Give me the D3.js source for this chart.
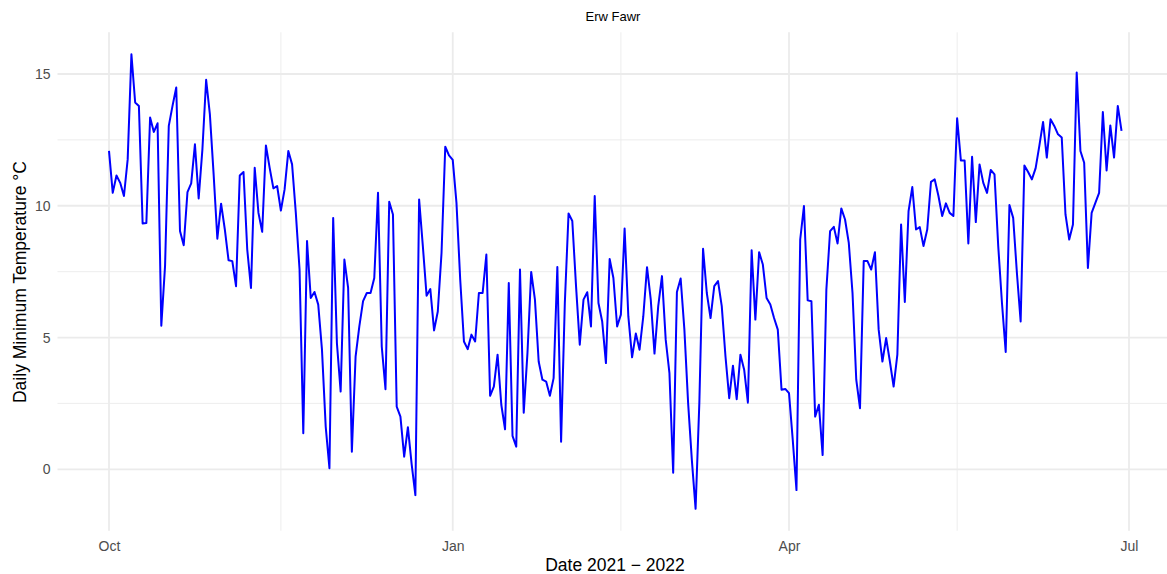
<!DOCTYPE html>
<html>
<head>
<meta charset="utf-8">
<script src="https://cdn.jsdelivr.net/npm/d3@7"></script>
<style>
  html, body { margin: 0; padding: 0; background: #ffffff; }
  svg { display: block; font-family: "Liberation Sans", Arial, Helvetica, sans-serif; }
</style>
</head>
<body>
<svg id="chart" width="1167" height="574"></svg>
<script>
// ---- Data ----
const chartTitle = "Erw Fawr";
const xAxisTitle = "Date 2021 \u2212 2022";
const yAxisTitle = "Daily Minimum Temperature \u00B0C";
const startDate = "2021-10-01"; // one value per day from this date
const minTemps = [
  12.08, 10.49, 11.15, 10.87, 10.37, 11.76, 15.75, 13.92, 13.79, 9.33,
  9.35, 13.35, 12.8, 13.13, 5.45, 7.71, 13.03, 13.79, 14.49, 9.04,
  8.5, 10.52, 10.85, 12.33, 10.28, 12.14, 14.78, 13.47, 11.2, 8.75,
  10.08, 9.1, 7.93, 7.9, 6.95, 11.15, 11.28, 8.34, 6.88, 11.44,
  9.73, 9.01, 12.29, 11.44, 10.66, 10.75, 9.82, 10.62, 12.08, 11.57,
  9.73, 7.58, 1.37, 8.66, 6.5, 6.73, 6.25, 4.54, 1.62, 0.04,
  9.54, 4.79, 2.95, 7.96, 6.88, 0.67, 4.28, 5.42, 6.38, 6.69,
  6.69, 7.26, 10.49, 4.66, 3.04, 10.15, 9.67, 2.38, 2.0, 0.48,
  1.6, 0.2, -0.98, 10.24, 8.47, 6.59, 6.84, 5.27, 5.99, 8.21,
  12.24, 11.91, 11.74, 10.11, 7.2, 4.85, 4.56, 5.11, 4.85, 6.69,
  6.69, 8.15, 2.79, 3.14, 4.35, 2.45, 1.52, 7.07, 1.27, 0.86,
  7.58, 2.15, 4.41, 7.49, 6.44, 4.09, 3.4, 3.33, 2.79, 3.46,
  7.68, 1.05, 6.31, 9.71, 9.42, 6.95, 4.73, 6.44, 6.72, 5.42,
  10.37, 6.31, 5.61, 4.03, 7.98, 7.26, 5.42, 5.87, 9.14, 5.8,
  4.25, 5.15, 4.54, 5.8, 7.67, 6.44, 4.39, 6.19, 7.33, 4.92,
  3.65, -0.13, 6.73, 7.24, 5.3, 2.51, 0.35, -1.5, 2.51, 8.37,
  6.69, 5.74, 6.95, 7.14, 6.19, 4.28, 2.7, 3.93, 2.66, 4.35,
  3.78, 2.53, 8.31, 5.68, 8.24, 7.77, 6.5, 6.25, 5.74, 5.3,
  3.02, 3.05, 2.89, 1.12, -0.79, 8.72, 9.99, 6.41, 6.38, 2.0,
  2.45, 0.54, 6.82, 9.04, 9.2, 8.57, 9.9, 9.48, 8.59, 6.69,
  3.4, 2.32, 7.9, 7.9, 7.58, 8.24, 5.3, 4.09, 4.98, 4.09,
  3.14, 4.35, 9.29, 6.35, 9.8, 10.71, 9.1, 9.19, 8.47, 9.1,
  10.91, 11.0, 10.37, 9.61, 10.09, 9.73, 9.61, 13.32, 11.72, 11.72,
  8.57, 11.86, 9.38, 11.57, 10.87, 10.49, 11.36, 11.19, 8.47, 6.31,
  4.45, 10.03, 9.54, 7.45, 5.61, 11.53, 11.28, 11.0, 11.42, 12.27,
  13.18, 11.83, 13.28, 13.03, 12.71, 12.59, 9.67, 8.72, 9.29, 15.06,
  12.08, 11.63, 7.64, 9.73, 10.11, 10.49, 13.56, 11.34, 13.05, 11.83,
  13.79, 12.84
];
const xTickDates = ["2021-10-01", "2022-01-01", "2022-04-01", "2022-07-01"];
const xTickLabels = ["Oct", "Jan", "Apr", "Jul"];
const xMinorDates = ["2021-11-16", "2022-02-15", "2022-05-16"];
const yTicks = [0, 5, 10, 15];
const yMinorTicks = [2.5, 7.5, 12.5];

// ---- Layout ----
const panel = { left: 57.5, right: 1180, top: 32.3, bottom: 530.7 };
const parse = d3.utcParse("%Y-%m-%d");
const start = parse(startDate);
const data = minTemps.map((v, i) => ({ date: d3.utcDay.offset(start, i), value: v }));

const x = d3.scaleUtc()
  .domain([parse("2021-10-01"), parse("2022-07-01")])
  .range([109, 1129]);
const y = d3.scaleLinear()
  .domain([0, 15])
  .range([469.3, 74]);

const svg = d3.select("#chart");
svg.append("rect").attr("width", 1167).attr("height", 574).attr("fill", "#ffffff");

const grid = svg.append("g");
// minor gridlines
grid.selectAll(".hmin").data(yMinorTicks).join("line")
  .attr("x1", panel.left).attr("x2", panel.right)
  .attr("y1", d => y(d)).attr("y2", d => y(d))
  .attr("stroke", "#ebebeb").attr("stroke-width", 0.9);
grid.selectAll(".vmin").data(xMinorDates.map(parse)).join("line")
  .attr("x1", d => x(d)).attr("x2", d => x(d))
  .attr("y1", panel.top).attr("y2", panel.bottom)
  .attr("stroke", "#ebebeb").attr("stroke-width", 0.9);
// major gridlines
grid.selectAll(".hmaj").data(yTicks).join("line")
  .attr("x1", panel.left).attr("x2", panel.right)
  .attr("y1", d => y(d)).attr("y2", d => y(d))
  .attr("stroke", "#ebebeb").attr("stroke-width", 1.8);
grid.selectAll(".vmaj").data(xTickDates.map(parse)).join("line")
  .attr("x1", d => x(d)).attr("x2", d => x(d))
  .attr("y1", panel.top).attr("y2", panel.bottom)
  .attr("stroke", "#ebebeb").attr("stroke-width", 1.8);

// line
const line = d3.line().x(d => x(d.date)).y(d => y(d.value));
svg.append("path").datum(data)
  .attr("d", line)
  .attr("fill", "none")
  .attr("stroke", "#0000ff")
  .attr("stroke-width", 2)
  .attr("stroke-linejoin", "round");

// axes (text only, ggplot minimal style)
const xAxis = d3.axisBottom(x)
  .tickValues(xTickDates.map(parse))
  .tickFormat((d, i) => xTickLabels[i])
  .tickSize(0).tickPadding(10);
const gx = svg.append("g").attr("transform", `translate(0,${panel.bottom})`).call(xAxis);
gx.select(".domain").remove();
gx.selectAll("text").attr("fill", "#4d4d4d").style("font-size", "14px")
  .style("font-family", "'Liberation Sans', Arial, sans-serif");

const yAxis = d3.axisLeft(y)
  .tickValues(yTicks)
  .tickFormat(d3.format("d"))
  .tickSize(0).tickPadding(7);
const gy = svg.append("g").attr("transform", `translate(${panel.left},0)`).call(yAxis);
gy.select(".domain").remove();
gy.selectAll("text").attr("fill", "#4d4d4d").style("font-size", "14px")
  .style("font-family", "'Liberation Sans', Arial, sans-serif");

// titles
svg.append("text").attr("x", 613).attr("y", 21)
  .attr("text-anchor", "middle").style("font-size", "13px").attr("fill", "#000")
  .text(chartTitle);
svg.append("text").attr("x", 615).attr("y", 571)
  .attr("text-anchor", "middle").style("font-size", "17.5px").attr("fill", "#000")
  .text(xAxisTitle);
svg.append("text")
  .attr("transform", "translate(26,282) rotate(-90)")
  .attr("text-anchor", "middle").style("font-size", "17.5px").attr("fill", "#000")
  .text(yAxisTitle);
</script>
</body>
</html>
